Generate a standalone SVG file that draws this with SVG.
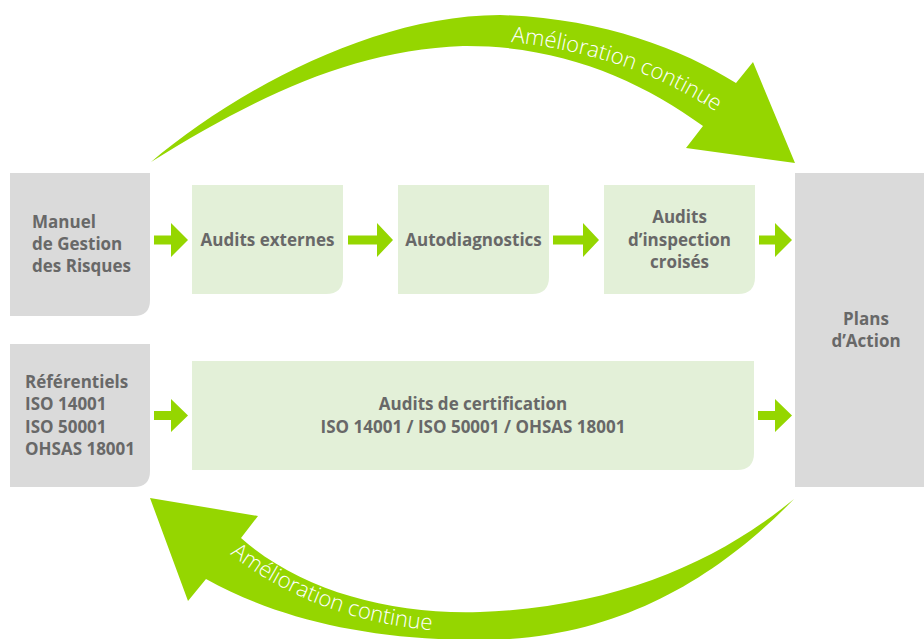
<svg xmlns="http://www.w3.org/2000/svg" width="924" height="639" viewBox="0 0 924 639">
<style>
.gray{fill:#dadada}
.green{fill:#e3f0d8}
.arr{fill:#95d600}
.lbl{font-family:"Open Sans","Noto Sans","Liberation Sans",sans-serif;font-weight:bold;font-size:17px;fill:#686868}
.mid{text-anchor:middle}
.loop{font-family:"Open Sans","Noto Sans","Liberation Sans",sans-serif;font-weight:300;font-size:22px;fill:#ffffff}
</style>
<defs>
<path id="topText" d="M511,42 Q642,56 732,123"/>
<path id="botText" d="M230,554 Q326,628 462,632"/>
</defs>
<rect width="924" height="639" fill="#ffffff"/>

<g id="loop-top">
<path class="arr" d="M151,162 C230,95 370,15 500,15 C600,18 680,48 736,83 L753,62 L795,163 L686,148 L703,126 C640,80 560,45 463,46 C350,50 250,100 151,162 Z"/>
<text class="loop"><textPath href="#topText">Amélioration continue</textPath></text>
</g>
<g id="loop-bottom">
<path class="arr" d="M150,498 L258,516 L241,538 C300,590 390,615 480,612 C620,607 720,560 794,499 C720,575 620,640 480,640 C370,640 280,620 206,579 L188,601 Z"/>
<text class="loop"><textPath href="#botText">Amélioration continue</textPath></text>
</g>

<g id="manuel">
<path class="gray" d="M10,173 H150 V300 Q150,316 134,316 H10 Z"/>
<text class="lbl" x="32" y="228">Manuel</text>
<text class="lbl" x="32" y="250">de Gestion</text>
<text class="lbl" x="32" y="272">des Risques</text>
</g>
<g id="referentiels">
<path class="gray" d="M10,344 H150 V471 Q150,487 134,487 H10 Z"/>
<text class="lbl" x="25" y="388">Référentiels</text>
<text class="lbl" x="25" y="410">ISO 14001</text>
<text class="lbl" x="25" y="433">ISO 50001</text>
<text class="lbl" x="25" y="455">OHSAS 18001</text>
</g>
<g id="audits-externes">
<path class="green" d="M192,185 H343 V277 Q343,294 326,294 H192 Z"/>
<text class="lbl mid" x="267.5" y="246">Audits externes</text>
</g>
<g id="autodiagnostics">
<path class="green" d="M398,185 H549 V277 Q549,294 532,294 H398 Z"/>
<text class="lbl mid" x="473.5" y="246">Autodiagnostics</text>
</g>
<g id="audits-inspection">
<path class="green" d="M604,185 H755 V277 Q755,294 738,294 H604 Z"/>
<text class="lbl mid" x="679.5" y="223">Audits</text>
<text class="lbl mid" x="679.5" y="246">d’inspection</text>
<text class="lbl mid" x="679.5" y="268">croisés</text>
</g>
<g id="audits-certification">
<path class="green" d="M192,361 H754 V453 Q754,470 737,470 H192 Z"/>
<text class="lbl mid" x="473" y="410">Audits de certification</text>
<text class="lbl mid" x="473" y="433">ISO 14001 / ISO 50001 / OHSAS 18001</text>
</g>
<g id="plans">
<path class="gray" d="M795,173 H924 V487 H795 Z"/>
<text class="lbl mid" x="866" y="325">Plans</text>
<text class="lbl mid" x="866" y="347">d’Action</text>
</g>

<g id="connectors">
<polygon class="arr" points="154,235.5 171,235.5 171,223 188,240 171,257 171,244.5 154,244.5"/>
<polygon class="arr" points="348,235.5 377,235.5 377,223 393,240 377,257 377,244.5 348,244.5"/>
<polygon class="arr" points="553,235.5 583,235.5 583,223 599,240 583,257 583,244.5 553,244.5"/>
<polygon class="arr" points="759,235.5 775,235.5 775,223 792,240 775,257 775,244.5 759,244.5"/>
<polygon class="arr" points="154,411 171,411 171,399 188,415.5 171,432 171,420 154,420"/>
<polygon class="arr" points="758,411 775,411 775,399 792,415.5 775,432 775,420 758,420"/>
</g>
</svg>
